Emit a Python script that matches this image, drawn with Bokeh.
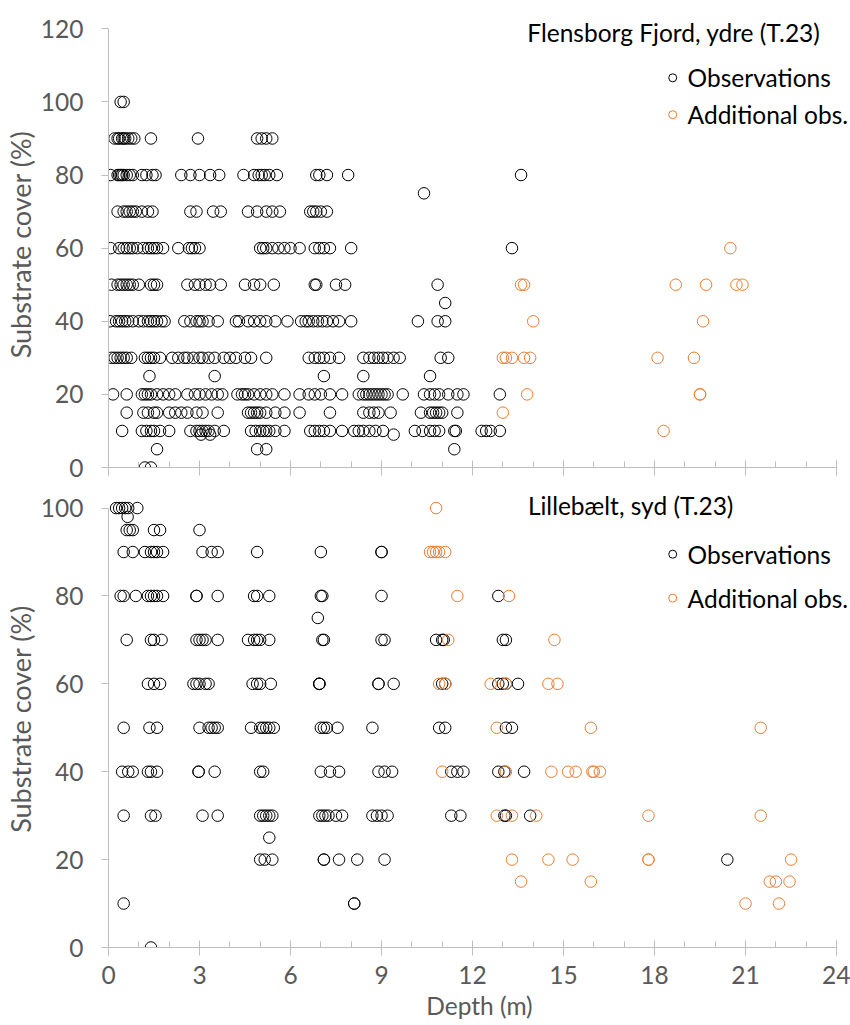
from bokeh.plotting import figure
from bokeh.layouts import column
from bokeh.models import Range1d, FixedTicker, Label
from bokeh.embed import file_html
from bokeh.resources import INLINE

FONT = "Lato"
BLACK = "#000000"
ORANGE = "#ED7D31"
AXIS_GREY = "#BFBFBF"
TEXT_GREY = "#595959"
FS = "24.5px"
FS_YLABEL = "27px"

# ---------------- data: Flensborg Fjord, ydre (T.23) ----------------
top_obs_depth = [
    0.4, 0.5,
    0.2, 0.3, 0.35, 0.45, 0.5, 0.55, 0.65, 0.75, 0.85, 1.4, 2.95, 4.9, 5.05, 5.2, 5.4,
    0.07, 0.3, 0.35, 0.4, 0.45, 0.5, 0.6, 0.7, 0.8, 1.1, 1.25, 1.45, 1.55, 2.4, 2.7, 3.0, 3.35, 3.65,
    4.45, 4.8, 4.95, 5.05, 5.15, 5.3, 5.55, 6.85, 6.95, 7.2, 7.9, 13.6,
    10.4,
    0.3, 0.5, 0.6, 0.7, 0.8, 0.9, 1.1, 1.3, 1.45, 2.7, 2.9, 3.45, 3.7, 4.6, 4.9, 5.2, 5.4, 5.65,
    6.65, 6.75, 6.85, 7.0, 7.2,
    0.07, 0.35, 0.5, 0.6, 0.7, 0.8, 0.95, 1.15, 1.3, 1.4, 1.5, 1.6, 1.8, 2.3, 2.65, 2.75, 2.85, 3.0,
    5.0, 5.1, 5.2, 5.4, 5.6, 5.8, 6.0, 6.3, 6.8, 6.95, 7.1, 7.3, 8.0, 13.3,
    0.1, 0.3, 0.4, 0.5, 0.6, 0.7, 0.8, 1.0, 1.4, 1.5, 1.6, 2.6, 2.85, 3.0, 3.2, 3.35, 3.7,
    4.5, 4.8, 5.0, 5.45, 6.8, 6.85, 7.5, 7.8, 10.85,
    11.1,
    0.05, 0.25, 0.35, 0.45, 0.55, 0.65, 0.8, 1.0, 1.15, 1.3, 1.4, 1.5, 1.6, 1.75, 1.85,
    2.5, 2.7, 2.9, 3.0, 3.1, 3.3, 3.6, 4.2, 4.3, 4.6, 4.8, 5.0, 5.2, 5.5, 5.9,
    6.35, 6.5, 6.6, 6.75, 6.9, 7.05, 7.2, 7.4, 7.6, 8.0, 10.2, 10.85, 11.1,
    0.1, 0.2, 0.3, 0.4, 0.5, 0.6, 0.75, 1.2, 1.3, 1.4, 1.5, 1.7,
    2.1, 2.3, 2.5, 2.6, 2.8, 3.0, 3.1, 3.3, 3.5, 3.8, 4.0, 4.2, 4.5, 4.7, 5.2,
    6.6, 6.8, 6.95, 7.1, 7.3, 7.6, 8.4, 8.6, 8.75, 8.9, 9.05, 9.2, 9.4, 9.6, 10.95, 11.2,
    1.35, 3.5, 7.1, 8.4, 10.6,
    0.15, 0.6, 1.1, 1.2, 1.3, 1.4, 1.6, 1.8, 2.0, 2.2, 2.6, 2.85, 3.0, 3.2, 3.4, 3.6, 3.75,
    4.25, 4.4, 4.5, 4.6, 4.8, 5.0, 5.2, 5.4, 5.8, 6.3, 6.6, 6.8, 7.0, 7.3, 7.7,
    8.25, 8.4, 8.5, 8.6, 8.7, 8.8, 8.9, 9.0, 9.1, 9.2, 9.7,
    10.4, 10.6, 10.75, 10.9, 11.2, 11.5, 11.7, 12.9,
    0.6, 1.15, 1.3, 1.5, 1.6, 2.0, 2.2, 2.4, 2.6, 2.9, 3.1, 3.6,
    4.6, 4.7, 4.8, 4.9, 5.0, 5.2, 5.5, 5.8, 6.3, 7.3, 8.4, 8.6, 8.75, 8.9, 9.3,
    10.3, 10.6, 10.7, 10.8, 10.9, 11.0, 11.5,
    0.45, 1.1, 1.25, 1.4, 1.5, 1.7, 2.0, 2.7, 2.9, 3.0, 3.1, 3.2, 3.3, 3.5, 3.8,
    4.7, 4.85, 5.0, 5.1, 5.2, 5.3, 5.5, 5.8, 6.65, 6.8, 6.95, 7.1, 7.3, 7.7,
    8.1, 8.25, 8.4, 8.6, 8.8, 9.05, 10.1, 10.35, 10.6, 10.75, 10.9, 11.4, 11.45,
    12.3, 12.45, 12.6, 12.9,
    3.05, 3.35, 9.4,
    1.6, 4.9, 5.2, 11.4,
    1.2, 1.4,
]
top_obs_cover = [
    100, 100,
    90, 90, 90, 90, 90, 90, 90, 90, 90, 90, 90, 90, 90, 90, 90,
    80, 80, 80, 80, 80, 80, 80, 80, 80, 80, 80, 80, 80, 80, 80, 80, 80, 80,
    80, 80, 80, 80, 80, 80, 80, 80, 80, 80, 80, 80,
    75,
    70, 70, 70, 70, 70, 70, 70, 70, 70, 70, 70, 70, 70, 70, 70, 70, 70, 70,
    70, 70, 70, 70, 70,
    60, 60, 60, 60, 60, 60, 60, 60, 60, 60, 60, 60, 60, 60, 60, 60, 60, 60,
    60, 60, 60, 60, 60, 60, 60, 60, 60, 60, 60, 60, 60, 60,
    50, 50, 50, 50, 50, 50, 50, 50, 50, 50, 50, 50, 50, 50, 50, 50, 50,
    50, 50, 50, 50, 50, 50, 50, 50, 50,
    45,
    40, 40, 40, 40, 40, 40, 40, 40, 40, 40, 40, 40, 40, 40, 40,
    40, 40, 40, 40, 40, 40, 40, 40, 40, 40, 40, 40, 40, 40, 40,
    40, 40, 40, 40, 40, 40, 40, 40, 40, 40, 40, 40, 40,
    30, 30, 30, 30, 30, 30, 30, 30, 30, 30, 30, 30,
    30, 30, 30, 30, 30, 30, 30, 30, 30, 30, 30, 30, 30, 30, 30,
    30, 30, 30, 30, 30, 30, 30, 30, 30, 30, 30, 30, 30, 30, 30, 30,
    25, 25, 25, 25, 25,
    20, 20, 20, 20, 20, 20, 20, 20, 20, 20, 20, 20, 20, 20, 20, 20, 20,
    20, 20, 20, 20, 20, 20, 20, 20, 20, 20, 20, 20, 20, 20, 20,
    20, 20, 20, 20, 20, 20, 20, 20, 20, 20, 20,
    20, 20, 20, 20, 20, 20, 20, 20,
    15, 15, 15, 15, 15, 15, 15, 15, 15, 15, 15, 15,
    15, 15, 15, 15, 15, 15, 15, 15, 15, 15, 15, 15, 15, 15, 15,
    15, 15, 15, 15, 15, 15, 15,
    10, 10, 10, 10, 10, 10, 10, 10, 10, 10, 10, 10, 10, 10, 10,
    10, 10, 10, 10, 10, 10, 10, 10, 10, 10, 10, 10, 10, 10,
    10, 10, 10, 10, 10, 10, 10, 10, 10, 10, 10, 10, 10,
    10, 10, 10, 10,
    9, 9, 9,
    5, 5, 5, 5,
    0, 0,
]
top_add_depth = [20.5, 13.6, 13.7, 18.7, 19.7, 20.7, 20.9, 14.0, 19.6,
                 13.0, 13.1, 13.3, 13.7, 13.9, 18.1, 19.3, 13.8, 19.5, 19.5, 13.0, 18.3]
top_add_cover = [60, 50, 50, 50, 50, 50, 50, 40, 40,
                 30, 30, 30, 30, 30, 30, 30, 20, 20, 20, 15, 10]

# ---------------- data: Lillebælt, syd (T.23) ----------------
bot_obs_depth = [
    0.25, 0.35, 0.45, 0.55, 0.65, 0.95,
    0.63,
    0.6, 0.7, 0.8, 1.5, 1.7, 3.0,
    0.5, 0.8, 1.2, 1.4, 1.5, 1.6, 1.8, 3.1, 3.4, 3.6, 4.9, 7.0, 9.0, 9.0,
    0.4, 0.5, 0.9, 1.3, 1.4, 1.5, 1.6, 1.8, 2.9, 2.9, 3.6, 4.8, 4.9, 5.3, 7.0, 7.05, 9.0, 12.85,
    6.9,
    0.6, 1.4, 1.5, 1.75, 2.9, 3.0, 3.1, 3.2, 3.6, 4.6, 4.8, 4.9, 5.0, 5.3, 7.05, 7.1, 9.0, 9.1,
    10.8, 11.0, 11.05, 13.0, 13.1,
    1.3, 1.5, 1.7, 2.8, 2.9, 3.0, 3.2, 3.3, 4.75, 4.9, 5.0, 5.35, 6.95, 6.95, 6.95, 8.9, 8.9, 9.4,
    11.0, 11.1, 12.85, 13.0, 13.1, 13.5,
    0.5, 1.35, 1.6, 3.0, 3.3, 3.4, 3.5, 3.6, 4.7, 5.0, 5.1, 5.2, 5.3, 5.45, 7.0, 7.1, 7.2, 7.55,
    8.7, 10.9, 11.1, 13.1, 13.3,
    0.45, 0.65, 0.8, 1.3, 1.4, 1.6, 2.97, 2.97, 3.5, 5.0, 5.1, 7.0, 7.3, 7.6, 8.9, 9.1, 9.35,
    11.3, 11.5, 11.7, 12.85, 13.05, 13.7,
    0.5, 1.4, 1.55, 3.1, 3.6, 5.0, 5.1, 5.2, 5.3, 5.4, 6.95, 7.05, 7.15, 7.25, 7.5, 7.7,
    8.7, 8.85, 9.0, 9.2, 11.3, 11.6, 13.05, 13.1, 13.9,
    5.3,
    5.0, 5.15, 5.4, 7.1, 7.1, 7.6, 8.2, 9.1, 20.4,
    0.5, 8.1, 8.1,
    1.4,
]
bot_obs_cover = [
    100, 100, 100, 100, 100, 100,
    98,
    95, 95, 95, 95, 95, 95,
    90, 90, 90, 90, 90, 90, 90, 90, 90, 90, 90, 90, 90, 90,
    80, 80, 80, 80, 80, 80, 80, 80, 80, 80, 80, 80, 80, 80, 80, 80, 80, 80,
    75,
    70, 70, 70, 70, 70, 70, 70, 70, 70, 70, 70, 70, 70, 70, 70, 70, 70, 70,
    70, 70, 70, 70, 70,
    60, 60, 60, 60, 60, 60, 60, 60, 60, 60, 60, 60, 60, 60, 60, 60, 60, 60,
    60, 60, 60, 60, 60, 60,
    50, 50, 50, 50, 50, 50, 50, 50, 50, 50, 50, 50, 50, 50, 50, 50, 50, 50,
    50, 50, 50, 50, 50,
    40, 40, 40, 40, 40, 40, 40, 40, 40, 40, 40, 40, 40, 40, 40, 40, 40,
    40, 40, 40, 40, 40, 40,
    30, 30, 30, 30, 30, 30, 30, 30, 30, 30, 30, 30, 30, 30, 30, 30,
    30, 30, 30, 30, 30, 30, 30, 30, 30,
    25,
    20, 20, 20, 20, 20, 20, 20, 20, 20,
    10, 10, 10,
    0,
]
bot_add_depth = [10.8, 10.6, 10.7, 10.8, 10.9, 11.1, 11.5, 13.2, 11.2, 14.7,
                 10.9, 11.1, 12.6, 13.1, 14.5, 14.8, 12.8, 15.9, 21.5,
                 11.0, 13.1, 14.6, 15.15, 15.4, 15.95, 16.0, 16.2,
                 12.8, 13.3, 14.1, 17.8, 21.5, 13.3, 14.5, 15.3, 17.8, 17.8, 22.5,
                 13.6, 15.9, 21.8, 22.0, 22.45, 21.0, 22.1]
bot_add_cover = [100, 90, 90, 90, 90, 90, 80, 80, 70, 70,
                 60, 60, 60, 60, 60, 60, 50, 50, 50,
                 40, 40, 40, 40, 40, 40, 40, 40,
                 30, 30, 30, 30, 30, 20, 20, 20, 20, 20, 20,
                 15, 15, 15, 15, 15, 10, 10]

x_ticks = [0, 3, 6, 9, 12, 15, 18, 21, 24]
x_minor_ticks = [0, 1, 2, 3, 4, 5, 6, 7, 8, 9, 10, 11, 12, 13, 14, 15, 16, 17, 18, 19, 20, 21, 22, 23, 24]
top_y_ticks = [0, 20, 40, 60, 80, 100, 120]
bot_y_ticks = [0, 20, 40, 60, 80, 100]

assert len(top_obs_depth) == len(top_obs_cover), (len(top_obs_depth), len(top_obs_cover))
assert len(top_add_depth) == len(top_add_cover)
assert len(bot_obs_depth) == len(bot_obs_cover), (len(bot_obs_depth), len(bot_obs_cover))
assert len(bot_add_depth) == len(bot_add_cover)


def make_panel(height, ymax, yview, yticks, border_top, border_bottom, show_xlabels):
    # the view extends a little beyond the axis so that the key texts are not clipped
    p = figure(width=850, height=height, x_range=Range1d(0, 24.46), y_range=Range1d(0, yview),
               output_backend="svg", toolbar_location=None,
               min_border_left=108, min_border_right=0,
               min_border_top=border_top, min_border_bottom=border_bottom)
    p.xgrid.visible = False
    p.ygrid.visible = False
    p.outline_line_color = None
    p.background_fill_color = "white"
    p.border_fill_color = "white"

    xa = p.xaxis[0]
    xa.bounds = (0, 24)
    xa.ticker = FixedTicker(ticks=x_ticks, minor_ticks=x_minor_ticks)
    xa.axis_line_color = AXIS_GREY
    xa.major_tick_line_color = AXIS_GREY
    xa.minor_tick_line_color = AXIS_GREY
    xa.major_tick_in = 7
    xa.major_tick_out = 8
    xa.minor_tick_in = 6
    xa.minor_tick_out = 0
    xa.major_label_text_font = FONT
    if show_xlabels:
        xa.major_label_text_color = TEXT_GREY
        xa.major_label_text_font_size = FS
        xa.major_label_standoff = 10
        xa.axis_label = "Depth (m)"
        xa.axis_label_text_font = FONT
        xa.axis_label_text_font_size = FS
        xa.axis_label_text_font_style = "normal"
        xa.axis_label_text_color = TEXT_GREY
        xa.axis_label_standoff = 4
    else:
        xa.major_label_text_color = None
        xa.major_label_text_font_size = "0px"
        xa.major_label_standoff = 0

    ya = p.yaxis[0]
    ya.bounds = (0, ymax)
    ya.ticker = FixedTicker(ticks=yticks, minor_ticks=[])
    ya.axis_line_color = AXIS_GREY
    ya.major_tick_line_color = AXIS_GREY
    ya.major_tick_in = 0
    ya.major_tick_out = 7
    ya.major_label_text_font = FONT
    ya.major_label_text_font_size = FS
    ya.major_label_text_color = TEXT_GREY
    ya.major_label_standoff = 18
    ya.axis_label = "Substrate cover (%)"
    ya.axis_label_text_font = FONT
    ya.axis_label_text_font_size = FS_YLABEL
    ya.axis_label_text_font_style = "normal"
    ya.axis_label_text_color = TEXT_GREY
    ya.axis_label_standoff = 1
    return p


def add_points(p, obs_x, obs_y, add_x, add_y):
    p.scatter(obs_x, obs_y, marker="circle", size=11.5, fill_color=None,
              line_color=BLACK, line_width=1)
    p.scatter(add_x, add_y, marker="circle", size=11.5, fill_color=None,
              line_color=ORANGE, line_width=1)


def add_key(p, title, title_x, title_y, mx, tx, y1, y2):
    p.add_layout(Label(x=title_x, y=title_y, text=title, text_align="right",
                       text_baseline="middle", text_font=FONT, text_font_size=FS,
                       text_color=BLACK))
    p.scatter([mx], [y1], marker="circle", size=8, fill_color=None,
              line_color=BLACK, line_width=1)
    p.scatter([mx], [y2], marker="circle", size=8, fill_color=None,
              line_color=ORANGE, line_width=1)
    p.add_layout(Label(x=tx, y=y1, text="Observations", text_align="left",
                       text_baseline="middle", text_font=FONT, text_font_size=FS,
                       text_color=BLACK))
    p.add_layout(Label(x=tx, y=y2, text="Additional obs.", text_align="left",
                       text_baseline="middle", text_font=FONT, text_font_size=FS,
                       text_color=BLACK))


p1 = make_panel(488, 120, 122, top_y_ticks, 21, 21, False)
add_points(p1, top_obs_depth, top_obs_cover, top_add_depth, top_add_cover)
add_key(p1, "Flensborg Fjord, ydre (T.23)", 23.47, 118.9, 18.6, 19.09, 106.6, 96.5)

p2 = make_panel(535, 100, 104, bot_y_ticks, 2, 76, True)
add_points(p2, bot_obs_depth, bot_obs_cover, bot_add_depth, bot_add_cover)
add_key(p2, "Lillebælt, syd (T.23)", 20.6, 100.7, 18.6, 19.09, 89.5, 79.5)

layout = column(p1, p2)
open("out.html", "w").write(file_html(layout, INLINE))
